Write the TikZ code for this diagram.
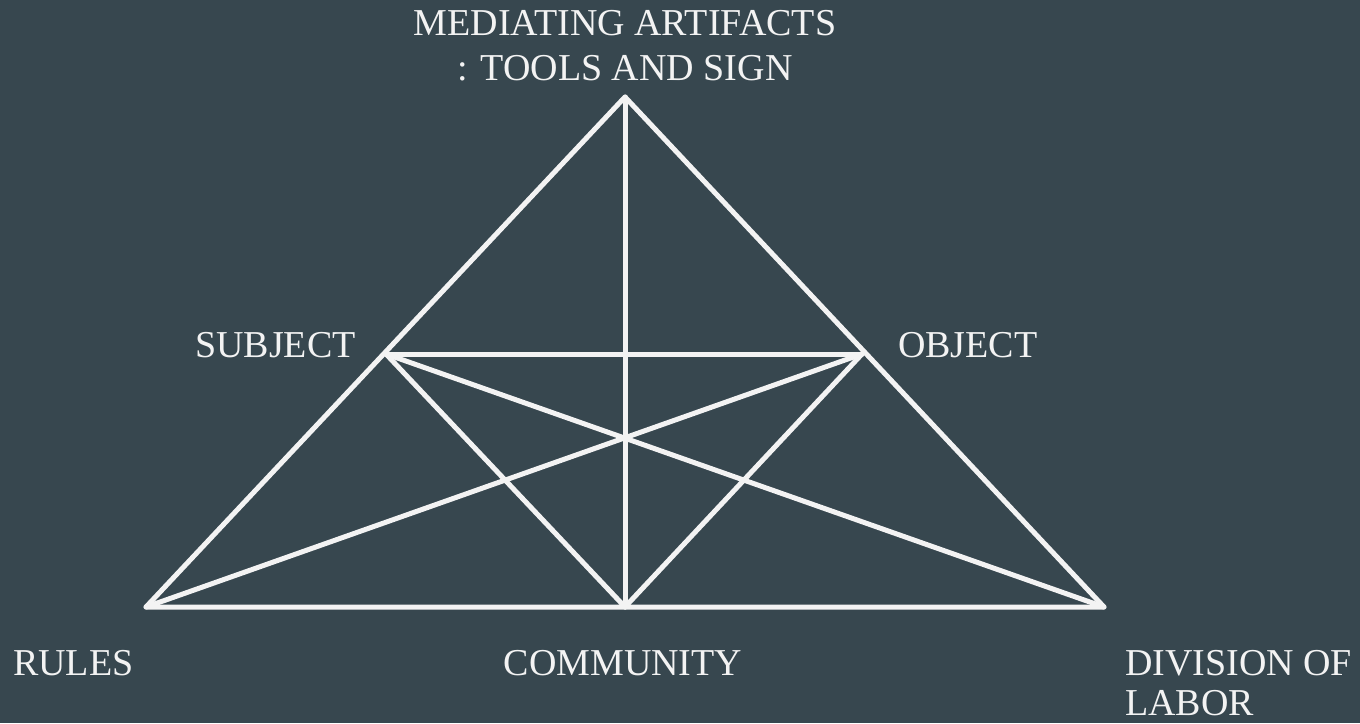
\documentclass[tikz,border=0pt]{standalone}
\usepackage{fontspec}
\setmainfont{Liberation Serif}
\definecolor{bgc}{HTML}{37474F}
\definecolor{fgc}{HTML}{F3F3F3}
\tikzset{
  edge/.style={draw=fgc, line width=5pt, line cap=round, line join=round},
  lbl/.style={text=fgc, inner sep=0pt, font=\fontsize{38}{44}\selectfont}
}
\begin{document}
\begin{tikzpicture}[x=1pt,y=-1pt]
\fill[bgc] (0,0) rectangle (1360,723);
\useasboundingbox (0,0) rectangle (1360,723);
\coordinate (A) at (625,97);
\coordinate (S) at (386,354);
\coordinate (O) at (862,354);
\coordinate (R) at (146,607);
\coordinate (C) at (625,607);
\coordinate (D) at (1104,607);
\draw[edge] (R) -- (A) -- (D) -- cycle;
\draw[edge] (S) -- (O);
\draw[edge] (A) -- (C);
\draw[edge] (S) -- (C);
\draw[edge] (O) -- (C);
\draw[edge] (S) -- (D);
\draw[edge] (O) -- (R);
\node[lbl, anchor=base] (med1) at (625,35) {MEDIATING ARTIFACTS};
\node[lbl, anchor=base] (med2) at (625,80) {: TOOLS AND SIGN};
\node[lbl, anchor=base west] (subj) at (195,357) {SUBJECT};
\node[lbl, anchor=base west] (obj) at (898,357) {OBJECT};
\node[lbl, anchor=base west] (rules) at (13,675) {RULES};
\node[lbl, anchor=base] (comm) at (623,675) {COMMUNITY};
\node[lbl, anchor=base west] (div1) at (1125,675) {DIVISION OF};
\node[lbl, anchor=base west] (div2) at (1125,715) {LABOR};
\end{tikzpicture}
\end{document}
